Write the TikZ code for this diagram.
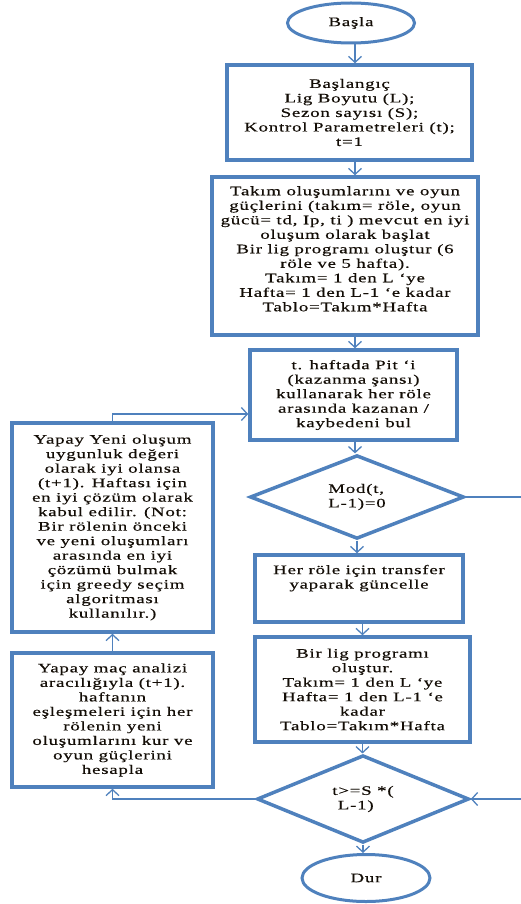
\documentclass[tikz,border=0pt]{standalone}
\usepackage{fontspec}
\setmainfont{Liberation Serif}[FakeStretch=1.45,LetterSpace=6,FakeBold=0.4]
\usepackage{xcolor}
\usetikzlibrary{shapes.geometric,arrows.meta}
\definecolor{ofblue}{HTML}{4F81BD}

\begin{document}
\begin{tikzpicture}[x=1pt, y=-1pt,
    every node/.style={align=center, text=black!90!brown, font=\fontsize{13}{14.5}\selectfont},
    box/.style={rectangle, draw=ofblue, line width=3.5pt, inner sep=0pt},
    term/.style={ellipse, draw=ofblue, line width=3pt, inner sep=0pt},
    choice/.style={diamond, draw=ofblue, line width=3.5pt, inner sep=0pt, align=left},
    conn/.style={draw=ofblue, line width=1.3pt},
    flow/.style={conn, -{Straight Barb[length=6pt, width=13pt]}}]
    \useasboundingbox (0,0) rectangle (521,904);

    \node[term, minimum width=127pt, minimum height=40pt] (start) at (351,23) {Başla};
    \node[box, minimum width=245pt, minimum height=95pt] (init) at (349.5,112.5)
        {Başlangıç\\ Lig Boyutu (L);\\ Sezon sayısı (S);\\ Kontrol Parametreleri (t);\\ t=1};
    \node[box, minimum width=266pt, minimum height=158pt] (setup) at (345,256)
        {Takım oluşumlarını ve oyun\\ güçlerini (takım= röle, oyun\\ gücü= td, Ip, ti ) mevcut en iyi\\ oluşum olarak başlat\\ Bir lig programı oluştur (6\\ röle ve 5 hafta).\\ Takım= 1 den L ‘ye\\ Hafta= 1 den L-1 ‘e kadar\\ Tablo=Takım*Hafta\\ ~};
    \node[box, minimum width=207pt, minimum height=90pt] (winner) at (353.5,395)
        {t. haftada Pit ‘i\\ (kazanma şansı)\\ kullanarak her röle\\ arasında kazanan /\\ kaybedeni bul};
    \node[choice, minimum width=214pt, minimum height=81pt] (modchk) at (357,497)
        {Mod(t,\\ L-1)=0};
    \node[box, minimum width=208pt, minimum height=67pt] (transfer) at (359,588.5)
        {Her röle için transfer\\ yaparak güncelle\\[9pt] ~};
    \node[box, minimum width=215pt, minimum height=105pt] (schedule) at (362.5,689.5)
        {Bir lig programı\\ oluştur.\\ Takım= 1 den L ‘ye\\ Hafta= 1 den L-1 ‘e\\ kadar\\ Tablo=Takım*Hafta};
    \node[choice, minimum width=212pt, minimum height=82pt] (endchk) at (363,799)
        {t>=S *(\\ \ L-1)};
    \node[term, minimum width=128pt, minimum height=47pt] (stop) at (366,878) {Dur};
    \node[box, minimum width=201pt, minimum height=209pt] (accept) at (112.5,527.5)
        {Yapay Yeni oluşum\\ uygunluk değeri\\ olarak iyi olansa\\ (t+1). Haftası için\\ en iyi çözüm olarak\\ kabul edilir. (Not:\\ Bir rölenin önceki\\ ve yeni oluşumları\\ arasında en iyi\\ çözümü bulmak\\ için greedy seçim\\ algoritması\\ kullanılır.)};
    \node[box, minimum width=201pt, minimum height=134pt] (simulate) at (112.5,720)
        {Yapay maç analizi\\ aracılığıyla (t+1).\\ haftanın\\ eşleşmeleri için her\\ rölenin yeni\\ oluşumlarını kur ve\\ oyun güçlerini\\ hesapla};

    \coordinate (axis) at (355,0);
    \coordinate (rimA) at (521,497);
    \coordinate (rimB) at (521,799);

    \draw[flow] (start.south -| axis) -- (init.north -| axis);
    \draw[flow] (init.south -| axis) -- (setup.north -| axis);
    \draw[flow] (setup.south -| axis) -- (winner.north -| axis);
    \draw[flow] (winner.south -| axis) -- (modchk.north -| axis);
    \draw[flow] (modchk.south) -- (modchk.south |- transfer.north);
    \draw[flow] (transfer.south -| schedule) -- (schedule.north);
    \draw[flow] (schedule.south) -- (schedule.south |- endchk.north);
    \draw[flow] (endchk.south) -- (endchk.south |- stop.north);
    \draw[conn] (modchk.east) -- (rimA);
    \draw[flow] (rimB) -- (endchk.east);
    \draw[flow] (endchk.west) -| (simulate.south);
    \draw[flow] (simulate.north) -- (accept.south);
    \draw[flow] (accept.north) |- ([yshift=-19pt]winner.west);
\end{tikzpicture}
\end{document}
